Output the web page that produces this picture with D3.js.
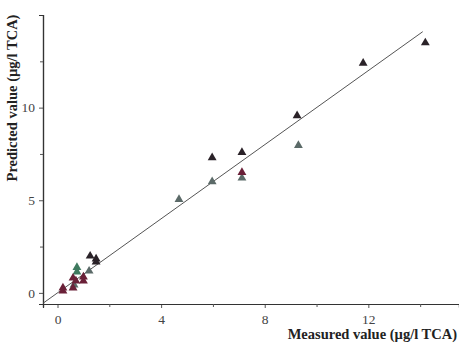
<!DOCTYPE html>
<html>
<head>
<meta charset="utf-8">
<script src="https://cdn.jsdelivr.net/npm/d3@7"></script>
<style>
    body { margin: 0; background: #fff; }
    svg { display: block; }
</style>
</head>
<body>
<svg id="chart" width="459" height="346"></svg>
<script>
// measured vs predicted TCA
let measured  = [14.2, 11.8, 9.25, 7.12, 5.97, 1.49, 1.49, 1.26,
                 9.3, 7.12, 5.97, 4.69, 1.22, 0.64,
                 0.75, 0.75,
                 7.12, 1.0, 1.0, 0.6, 0.71, 0.6, 0.21, 0.21];
let predicted = [13.5, 12.4, 9.57, 7.58, 7.3, 1.83, 1.67, 1.99,
                 7.96, 6.2, 6.0, 5.05, 1.18, 0.43,
                 1.38, 1.13,
                 6.5, 0.86, 0.65, 0.8, 0.65, 0.27, 0.27, 0.1];
let group     = ["a", "a", "a", "a", "a", "a", "a", "a",
                 "b", "b", "b", "b", "b", "b",
                 "c", "c",
                 "d", "d", "d", "d", "d", "d", "d", "d"];
let groupColor = { a: "#2a2228", b: "#5b6a68", c: "#3f7a5f", d: "#6a2038" };
let majorTicksX = [0, 4, 8, 12];
let minorTicksX = [2, 6, 10, 14];
let majorTicksY = [0, 5, 10];
let minorTicksY = [2.5, 7.5, 12.5];
let fitLine = [-0.55, 14.1];

let svg = d3.select("#chart");
let x = d3.scaleLinear().domain([-0.56, 15.5]).range([43, 459]);
let y = d3.scaleLinear().domain([-0.6, 15]).range([304, 15]);
let font = "'Liberation Serif', 'DejaVu Serif', serif";

// axes
let xAxis = svg.append("g").attr("transform", `translate(0,${y(-0.6)})`)
    .call(d3.axisBottom(x).tickValues(majorTicksX).tickSize(4).tickPadding(6));
xAxis.append("g").call(d3.axisBottom(x).tickValues(minorTicksX).tickSize(3).tickFormat(""));
let yAxis = svg.append("g").attr("transform", `translate(${x(-0.56)},0)`)
    .call(d3.axisLeft(y).tickValues(majorTicksY).tickSize(4).tickPadding(4));
yAxis.append("g").call(d3.axisLeft(y).tickValues(minorTicksY).tickSize(3).tickFormat(""));
svg.selectAll(".domain").attr("stroke", "#333").attr("stroke-width", 1.2);
svg.selectAll(".tick line").attr("stroke", "#555");
svg.selectAll(".tick text")
    .attr("font-family", font)
    .attr("font-size", "13.5px")
    .attr("fill", "#444");

// y = x reference line
svg.append("line")
    .attr("x1", x(fitLine[0])).attr("y1", y(fitLine[0]))
    .attr("x2", x(fitLine[1])).attr("y2", y(fitLine[1]))
    .attr("stroke", "#555")
    .attr("stroke-width", 1);

// triangles
svg.append("g").selectAll("path")
    .data(measured.map((m, i) => ({ m: m, p: predicted[i], g: group[i] })))
    .enter().append("path")
    .attr("d", d3.symbol().type(d3.symbolTriangle).size(34))
    .attr("transform", d => `translate(${x(d.m)},${y(d.p)})`)
    .attr("fill", d => groupColor[d.g]);

// axis titles
svg.append("text")
    .attr("transform", "translate(17,98) rotate(-90)")
    .attr("text-anchor", "middle")
    .attr("font-family", font)
    .attr("font-weight", "bold")
    .attr("font-size", "14.5px")
    .attr("fill", "#222")
    .text("Predicted value (µg/l TCA)");
svg.append("text")
    .attr("x", 457)
    .attr("y", 339)
    .attr("text-anchor", "end")
    .attr("font-family", font)
    .attr("font-weight", "bold")
    .attr("font-size", "14.5px")
    .attr("fill", "#222")
    .text("Measured value (µg/l TCA)");
</script>
</body>
</html>
